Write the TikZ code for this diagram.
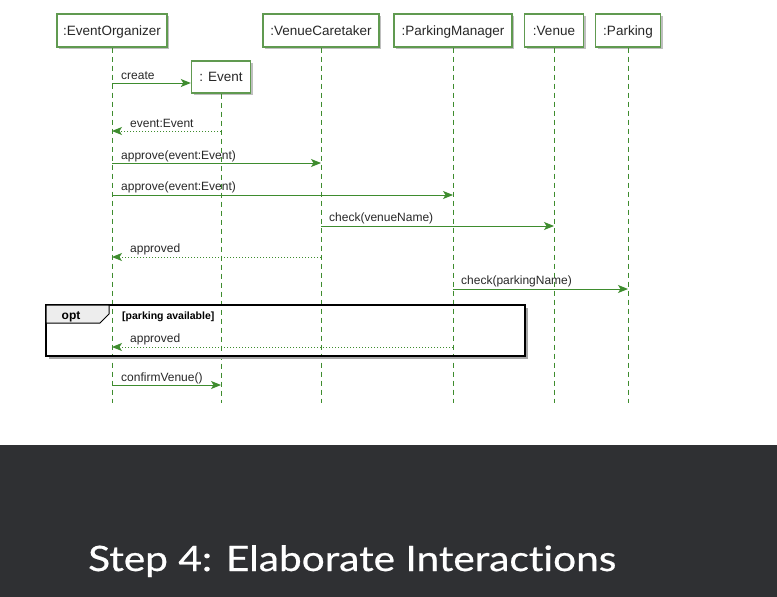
\documentclass[tikz,border=0pt]{standalone}
\usepackage{fontspec}
\setmainfont{Liberation Sans}
\newfontfamily\titlefont[FakeStretch=1.16,FakeBold=0.6,Ligatures=NoCommon]{Lato}
\usetikzlibrary{arrows.meta,shadows}
\definecolor{lgreen}{RGB}{62,140,46}
\definecolor{bgreen}{RGB}{96,154,80}
\definecolor{band}{RGB}{47,48,51}
\definecolor{txt}{RGB}{40,40,40}
\begin{document}
\begin{tikzpicture}[x=1pt,y=-1pt,
  obj/.style={draw=bgreen,line width=1.4pt,fill=white,inner sep=0pt,
    minimum height=33pt,text=txt,font=\fontsize{13.5}{15}\selectfont,
    text height=10pt,text depth=0.5pt,
    drop shadow={shadow xshift=2pt,shadow yshift=-2pt,opacity=0.25,fill=black}},
  life/.style={draw=lgreen,line width=0.9pt,dash pattern=on 5pt off 4pt},
  msg/.style={draw=lgreen,line width=1pt,-{Stealth[length=10pt,width=8pt,inset=2.5pt]}},
  ret/.style={msg,dash pattern=on 1.4pt off 1.6pt},
  lbl/.style={font=\fontsize{12}{14}\selectfont,anchor=base west,inner sep=0pt,text=txt},
]
\useasboundingbox (0,0) rectangle (777,597);
\fill[white] (0,0) rectangle (777,597);
\fill[band] (0,445) rectangle (777,597);

% participants
\node[obj,minimum width=110pt] (eo) at (112,30.5) {:EventOrganizer};
\node[obj,minimum width=116pt] (vc) at (321,30.5) {:VenueCaretaker};
\node[obj,minimum width=118pt] (pm) at (453,30.5) {:ParkingManager};
\node[obj,minimum width=59pt] (ve) at (554,30.5) {:Venue};
\node[obj,minimum width=65pt] (pa) at (628,30.5) {:Parking};
\node[obj,minimum width=59pt,minimum height=32pt] (ev) at (221,77) {: Event};

% lifelines
\foreach \n in {eo,vc,pm,ve,pa,ev}{
  \coordinate (\n end) at (\n.south |- 0,403);
  \draw[life] (\n.south) -- (\n end);
}

% messages
\draw[msg] (eo.south |- 0,83) -- (ev.west |- 0,83);
\node[lbl] (l1) at (121,79) {create};

\draw[ret] (ev.south |- 0,131) -- (eo.south |- 0,131);
\node[lbl] (l2) at (130,127) {event:Event};

\draw[msg] (eo.south |- 0,163) -- (vc.south |- 0,163);
\node[lbl] (l3) at (121,159) {approve(event:Event)};

\draw[msg] (eo.south |- 0,195) -- (pm.south |- 0,195);
\node[lbl] (l4) at (121,190) {approve(event:Event)};

\draw[msg] (vc.south |- 0,226) -- (ve.south |- 0,226);
\node[lbl] (l5) at (329,221) {check(venueName)};

\draw[ret] (vc.south |- 0,257) -- (eo.south |- 0,257);
\node[lbl] (l6) at (130,252) {approved};

\draw[msg] (pm.south |- 0,289) -- (pa.south |- 0,289);
\node[lbl] (l7) at (461,284) {check(parkingName)};

% opt frame
\draw[black!35,line width=1.6pt] (527,308) -- (527,358) -- (49,358);
\draw[black,line width=1.8pt] (46,305) rectangle (525,356);
\draw[black,line width=1pt,fill=black!7] (46,305) -- (109,305) -- (109,314) -- (100,323) -- (46,323) -- cycle;
\node[font=\bfseries\fontsize{12}{14}\selectfont,inner sep=0pt,anchor=base] (opt) at (71,319) {opt};
\node[font=\bfseries\fontsize{10.5}{12}\selectfont,inner sep=0pt,anchor=base west] (guard) at (122,319) {[parking available]};

\draw[ret] (pm.south |- 0,347) -- (eo.south |- 0,347);
\node[lbl] (l8) at (130,342) {approved};

\draw[msg] (eo.south |- 0,385) -- (ev.south |- 0,385);
\node[lbl] (l9) at (121,381) {confirmVenue()};

% title
\node[font=\titlefont\fontsize{35}{40}\selectfont,text=white,anchor=base west,inner sep=0pt] (title) at (88,571) {Step 4: Elaborate Interactions};
\end{tikzpicture}
\end{document}
